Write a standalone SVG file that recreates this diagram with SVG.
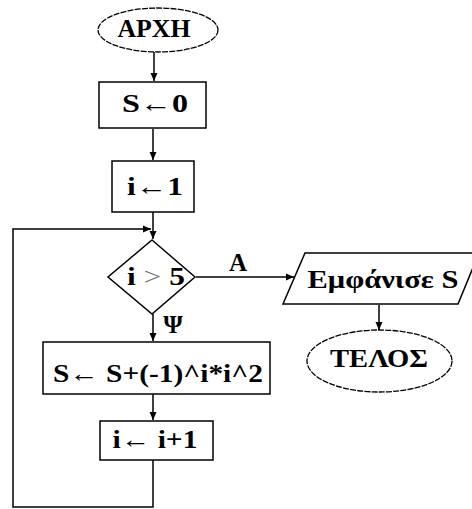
<svg xmlns="http://www.w3.org/2000/svg" width="472" height="509" viewBox="0 0 472 509">
<defs>
<marker id="ah" markerWidth="8" markerHeight="8" refX="8" refY="4" orient="auto" markerUnits="userSpaceOnUse">
<path d="M0,0.5 L8,4 L0,7.5 Z" fill="#000"/>
</marker>
<style>
.s{fill:#fff;stroke:#000;stroke-width:1.5}
.e{fill:#fff;stroke:#000;stroke-width:1.3;stroke-dasharray:6,1.2}
.t{font-family:'Liberation Serif','Times New Roman',serif;font-weight:bold;font-size:25px;fill:#000;text-anchor:middle}
.c{fill:none;stroke:#000;stroke-width:1.5}
</style>
</defs>
<rect width="472" height="509" fill="#fff"/>
<g id="connectors">
<line class="c" x1="154" y1="52" x2="154" y2="81" marker-end="url(#ah)"/>
<line class="c" x1="153" y1="129" x2="153" y2="160" marker-end="url(#ah)"/>
<line class="c" x1="153" y1="212" x2="153" y2="239" marker-end="url(#ah)"/>
<polyline class="c" points="153,460 153,507 13,507 13,229 151,229" marker-end="url(#ah)"/>
<line class="c" x1="153" y1="314" x2="153" y2="341" marker-end="url(#ah)"/>
<line class="c" x1="153" y1="394" x2="153" y2="420" marker-end="url(#ah)"/>
<line class="c" x1="196" y1="277" x2="294" y2="277" marker-end="url(#ah)"/>
<line class="c" x1="379" y1="305" x2="379" y2="330" marker-end="url(#ah)"/>
<text class="t" x="238" y="271" font-size="22">Α</text>
<text class="t" x="173" y="333" font-size="22">Ψ</text>
</g>
<g id="start">
<ellipse class="e" cx="158" cy="30" rx="60" ry="22"/>
<text class="t" x="154" y="37" textLength="73" lengthAdjust="spacingAndGlyphs">ΑΡΧΗ</text>
</g>
<g id="s0">
<rect class="s" x="99" y="82" width="107" height="46"/>
<text class="t" x="155" y="112" textLength="66" lengthAdjust="spacingAndGlyphs">S←0</text>
</g>
<g id="i1">
<rect class="s" x="112" y="161" width="82" height="51"/>
<text class="t" x="155" y="195" textLength="56" lengthAdjust="spacingAndGlyphs">i←1</text>
</g>
<g id="cond">
<polygon class="s" points="152,240 195,277 152,314 108,277"/>
<text class="t" x="156" y="285" textLength="58" lengthAdjust="spacingAndGlyphs">i <tspan font-weight="normal" fill="#777">&gt;</tspan> 5</text>
</g>
<g id="update">
<rect class="s" x="43" y="342" width="227" height="52"/>
<text class="t" x="158" y="382" textLength="210" lengthAdjust="spacingAndGlyphs">S← S+(-1)^i*i^2</text>
</g>
<g id="inc">
<rect class="s" x="100" y="421" width="113" height="39"/>
<text class="t" x="155" y="448" textLength="85" lengthAdjust="spacingAndGlyphs">i← i+1</text>
</g>
<g id="output">
<polygon class="s" points="305,253 479,253 458,304 283,304"/>
<text class="t" x="383" y="288" textLength="151" lengthAdjust="spacingAndGlyphs">Εμφάνισε S</text>
</g>
<g id="end">
<ellipse class="e" cx="379.5" cy="361" rx="72.5" ry="31"/>
<text class="t" x="379" y="367" textLength="98" lengthAdjust="spacingAndGlyphs">ΤΕΛΟΣ</text>
</g>
</svg>
